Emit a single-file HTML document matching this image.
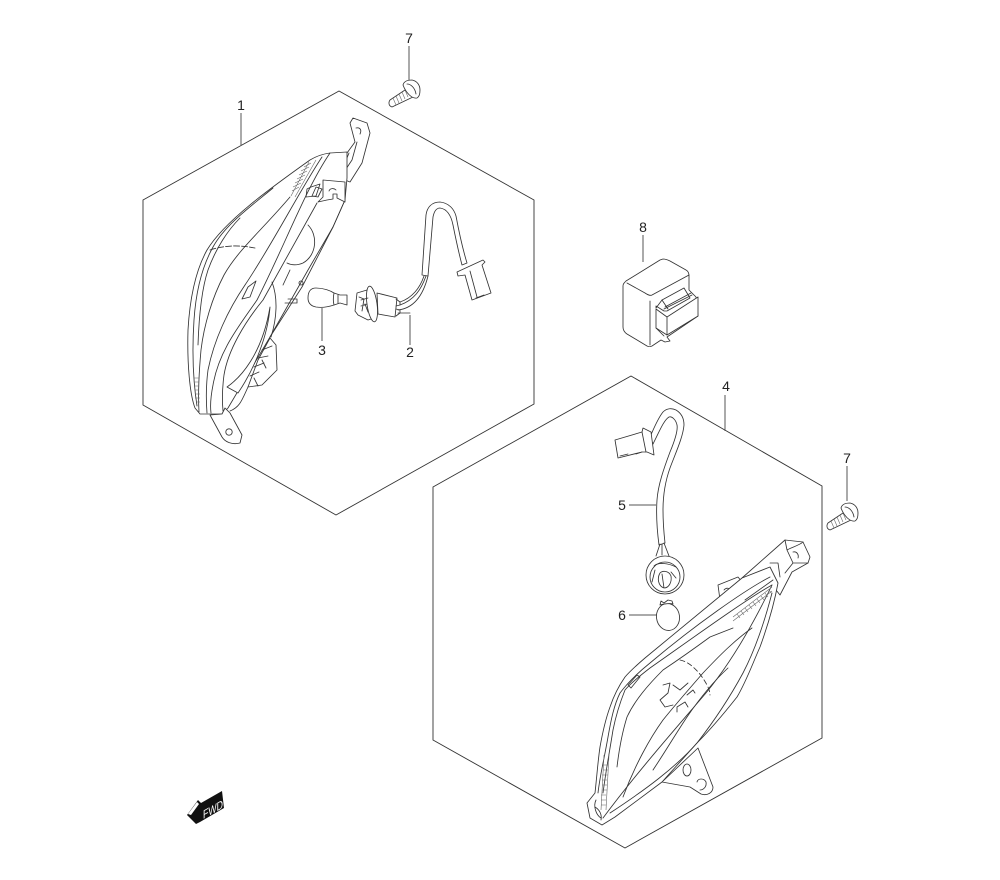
<!DOCTYPE html>
<html>
<head>
<meta charset="utf-8">
<style>
html,body{margin:0;padding:0;background:#fff;width:1000px;height:880px;overflow:hidden}
svg{display:block}
text{font-family:"Liberation Sans",sans-serif;font-size:14px;fill:#222;text-anchor:middle}
.h{fill:none;stroke:#333;stroke-width:.9}
.l{fill:none;stroke:#555;stroke-width:1}
.d{fill:none;stroke:#333;stroke-width:.85;stroke-linejoin:round;stroke-linecap:round}
.t{fill:none;stroke:#666;stroke-width:.6}
.w{fill:#fff;stroke:#333;stroke-width:.85;stroke-linejoin:round}
</style>
</head>
<body>
<svg width="1000" height="880" viewBox="0 0 1000 880" xmlns="http://www.w3.org/2000/svg">
<!-- hexagon frames -->
<path class="h" d="M339 91L534 200V404L336 515L143 405V200Z"/>
<path class="h" d="M631 376L822 486V738L625 848L433 740V487Z"/>

<!-- leaders -->
<path class="l" d="M409 46V81M241 113V146M322 308V341M410 315V345M643 235V262M725 395V431M847 466V501M629 505H656M629 615H658"/>
<text x="409" y="43">7</text>
<text x="241" y="110">1</text>
<text x="322" y="355">3</text>
<text x="410" y="357">2</text>
<text x="643" y="232">8</text>
<text x="726" y="391">4</text>
<text x="847" y="463">7</text>
<text x="622" y="510">5</text>
<text x="622" y="620">6</text>

<!-- lamp 1 -->
<g>
<!-- bracket -->
<path class="w" d="M350 123L353 118L367 123L370 133L362 163L350 182L340 178L340 160L347 153L355 142Z"/>
<path class="d" d="M356 128C360 127 362 130 360 134M357 142L352 160L344 172M349 153L342 170"/>
<!-- body silhouette -->
<path class="w" d="M347 152L330 153C322 154 315 157 310 160C275 185 225 220 207 250C197 268 190 295 188 330C187 365 190 395 195 408L200 414H222L228 408L270 337L308 270L333 227L345 200L347 178Z"/>
<!-- lens curves -->
<path class="d" d="M273 188C250 207 225 225 213 247C203 265 196 290 194 320C192 350 193 380 197 406"/>
<path class="d" d="M240 218C228 230 216 248 208 270C202 288 199 315 198 345"/>
<path class="d" d="M290 197C262 230 238 250 224 275C212 298 204 325 201 350C199 372 198 395 199 412"/>
<path class="d" d="M330 153C305 190 285 245 257 300C240 325 219 350 213 385C211 395 210 405 211 413"/>
<path class="d" d="M322 157C300 190 272 245 245 285C228 310 214 340 208 370C206 385 206 400 207 413"/>
<path class="d" d="M317 203L263 300C245 322 228 350 224 375C222 390 222 400 223 411"/>
<path class="d" d="M345 200L333 227L302 287L270 337"/>
<!-- tick strips -->
<path class="t" d="M309 162L291 196M316 160L295 197M311 163L304 167M309 167L301 171M307 171L299 175M305 175L297 179M303 179L295 183M301 183L293 187M299 187L292 191"/>
<path class="t" d="M194 378L199 378M194 382L199 382M194 386L199 386M195 390L199 390M195 394L200 394M195 398L200 398M196 402L200 402"/>
<path class="d" stroke-dasharray="6 2" d="M210 250C225 245 240 245 255 248"/>
<!-- bowl -->
<path class="d" d="M308 225C318 235 317 255 303 263C296 266 291 265 287 263M272 282C278 298 277 318 271 337"/>
<circle class="d" cx="301" cy="283" r="2"/>
<path class="d" d="M288 299H297V303H285M290 270L283 285"/>
<path class="d" d="M248 287L256 281L250 297L242 299Z"/>
<path class="d" d="M307 189L311 187L320 184L316 196L306 197Z"/>
<path class="d" d="M312 196L316 187L322 189L318 197Z"/>
<!-- clip -->
<path class="w" d="M323 180L345 182V202L337 198V194H333V199L327 200L318 202L323 197Z"/>
<path class="d" d="M329 191C330 188 334 188 336 190"/>
<!-- socket lower -->
<path class="w" d="M270 338L276 345L277 370L262 385L248 387L258 360Z"/>
<path class="d" d="M262 350L272 346M258 358L268 356M254 367L264 363M250 376L259 372M254 378L258 386M262 360L266 368"/>
<path class="w" d="M227 387C240 378 262 355 270 307C268 335 255 368 238 393Z"/>
<path class="d" d="M248 387C242 400 240 407 230 411"/>
<!-- tab -->
<path class="w" d="M210 415L222 437C225 442 232 445 240 443L242 435L230 413L225 408L222 414Z"/>
<circle class="d" cx="229" cy="432" r="3.2"/>
</g>

<!-- bulb 3 -->
<path class="w" d="M308 298C308 291 311 288 316 288C324 288 331 291 334 293L340 295L347 295V305L340 303L334 305C328 307 322 308 316 307C311 306 308 303 308 298Z"/>
<path class="d" d="M334 293C333 298 333 301 334 305M338 295V303"/>

<!-- socket 2 / harness -->
<g>
<path class="w" d="M422 275L426 215C427 207 432 202 440 202C449 203 454 209 456 216C459 232 463 250 467 263L462 265C458 250 455 235 453 225C451 215 447 209 440 208C436 208 434 212 433 217L428 276Z"/>
<path class="d" d="M424 276C420 288 412 298 400 302M426 276C421 290 414 300 400 305M428 276C424 292 416 308 398 310M398 313H410"/>
<path class="w" d="M377 293L397 298L395 317L378 314Z"/>
<path class="w" d="M357 293L367 290L372 300L374 318L368 320L358 315L355 311Z"/>
<ellipse class="w" cx="372" cy="304" rx="5" ry="18" transform="rotate(-8 372 304)"/>
<path class="d" d="M359 297L364 299L362 311M361 300L368 298M361 306L367 304M365 304L368 312M396 299L400 302V305L396 306M396 309L400 310V313L396 316"/>
<path class="w" d="M457 272L483 260L485 262L482 265L491 293L472 300L465 275L458 276Z"/>
<path class="d" d="M476 298L484 295M470 271L477 297"/>
</g>

<!-- relay 8 -->
<g>
<path class="w" d="M663 259C666 259 668 260 670 261L686 270C688 271 689 273 689 276V290L696 297L698 316L667 337L670 341L665 342L661 340L652 346C650 347 649 347 647 346L627 334C624 332 623 330 623 327V286C623 284 624 283 626 281L660 260Z"/>
<path class="d" d="M627 283L645 293C648 295 650 296 652 295L689 275M650 301V345"/>
<path class="w" d="M656 308L662 300L684 288L690 298L667 311L664 311L656 306Z"/>
<path class="d" d="M662 300L668 309M664 309L692 295M665 307L691 293"/>
<path class="w" d="M656 309L667 317L698 297V316L667 335L656 328Z"/>
<path class="d" d="M667 317V335M664 336L656 328"/>
</g>

<!-- screws 7 -->
<g>
<path class="w" d="M390 100L408 88L413 97L392 107C389 106 388 103 390 100Z"/>
<path class="t" d="M393 98L396 105M396 96L399 103M399 94L402 101M402 92L405 99M405 90L408 97"/>
<path class="w" d="M403 85C404 81 408 80 412 80C417 81 420 85 420 90C420 94 419 97 417 98C412 99 406 93 403 85Z"/>
<path class="d" d="M407 84C411 84 415 88 416 94"/>
</g>
<g transform="translate(438 423)">
<path class="w" d="M390 100L408 88L413 97L392 107C389 106 388 103 390 100Z"/>
<path class="t" d="M393 98L396 105M396 96L399 103M399 94L402 101M402 92L405 99M405 90L408 97"/>
<path class="w" d="M403 85C404 81 408 80 412 80C417 81 420 85 420 90C420 94 419 97 417 98C412 99 406 93 403 85Z"/>
<path class="d" d="M407 84C411 84 415 88 416 94"/>
</g>

<!-- harness 5 -->
<g>
<path class="w" d="M650 437C654 428 658 418 663 412C667 408 672 408 676 410C681 413 684 418 684 425C683 437 676 452 670 468C665 482 663 495 663 510C663 522 664 534 665 543L659 545C657 530 656 515 657 500C658 485 664 468 670 452C675 440 678 430 677 425C676 420 672 416 669 417C664 420 660 430 653 444Z"/>
<path class="w" d="M615 440L642 432L643 428L651 432L654 455L647 452L642 452L618 458Z"/>
<path class="d" d="M642 432L646 452M620 456L628 454M636 454L642 452"/>
<path class="d" d="M660 544L656 556M662 544L662 555M664 543L669 556"/>
<circle class="w" cx="665" cy="575" r="19"/>
<circle class="d" cx="665" cy="577" r="15"/>
<path class="d" d="M654 566C658 562 668 563 676 567M655 570L652 582M660 573C657 578 658 586 664 588C669 588 672 582 671 576C669 571 663 570 660 573ZM671 572L676 578M662 574L664 588"/>
<ellipse class="w" cx="668" cy="617" rx="11.5" ry="13.5" transform="rotate(-8 668 617)"/>
<path class="w" d="M660 605L661 601L664 603L668 600L672 601L673 604C669 603 664 604 660 605Z"/>
</g>

<!-- lamp 4 -->
<g>
<!-- bottom tab -->
<path class="w" d="M698 748L713 787C713 793 707 796 701 794L690 787L662 782Z"/>
<ellipse class="d" cx="687" cy="770" rx="4" ry="6"/>
<path class="d" d="M697 782C698 778 704 778 706 782C707 787 703 790 700 790"/>
<!-- bracket -->
<path class="w" d="M742 578L785 540L803 542L810 557L808 563L792 572L780 595L768 580Z"/>
<path class="d" d="M785 540L787 550L793 563L808 563M793 563L785 573M770 563L778 563L780 577M787 550C790 548 800 545 803 542"/>
<path class="d" d="M793 552C797 551 799 555 798 558"/>
<!-- clip -->
<path class="w" d="M718 585L738 577L742 582L725 605L720 600Z"/>
<path class="d" d="M724 590C727 587 730 588 730 592M725 605L733 597L731 594L723 602"/>
<!-- silhouette -->
<path class="w" d="M742 578L770 567L778 583C774 605 768 625 760 647C752 665 746 682 737 697C722 716 710 730 697 743L662 782L615 817L602 825L590 818L587 803L595 793C597 775 598 760 600 747C603 730 606 718 610 707C614 695 618 687 625 677C631 670 638 664 645 658Z"/>
<!-- lens lines -->
<path class="d" d="M770 577C745 590 695 625 650 663C635 675 626 685 620 693C614 705 611 720 608 737C604 760 600 775 598 793"/>
<path class="d" d="M772 585C745 600 690 640 650 668C637 678 630 684 625 690C619 705 616 715 613 730C609 755 606 770 603 793"/>
<path class="d" d="M733 628L710 637C695 648 678 660 663 670C648 685 635 700 627 717C622 733 619 750 617 767"/>
<path class="d" d="M752 628C735 640 720 655 703 673C690 688 675 705 663 720C650 738 635 765 623 797"/>
<path class="d" d="M728 668C715 680 700 698 687 717C675 735 665 752 653 770"/>
<path class="d" d="M772 593C765 620 755 650 743 673C730 697 715 720 697 743C675 768 645 790 610 813"/>
<path class="d" d="M773 580L745 600M772 585C760 610 735 660 700 700C670 735 635 775 603 818"/>
<!-- tick strips -->
<path class="t" d="M733 617L772 587M733 621L772 591M737 614L740 618M741 611L744 615M745 608L748 612M749 605L752 609M753 602L756 606M757 599L760 603M761 596L764 600M765 593L768 597M769 590L772 594"/>
<path class="t" d="M604 755L601 810M609 755L606 810M603 765H608M603 770H608M602 775H608M602 780H607M602 785H607M602 790H607M601 795H606M601 800H606M601 805H606"/>
<!-- marks -->
<path class="d" d="M628 685L637 675L640 677L631 688Z"/>
<path class="d" stroke-dasharray="5 3" d="M680 660C690 662 700 672 707 685C709 689 710 692 710 695"/>
<path class="d" d="M663 685L670 683L668 693L660 700L665 707L673 705M673 685L680 690L688 683M687 695L693 690L695 693M677 707L685 702L688 707M677 712L677 707"/>
<!-- bottom end -->
<path class="d" d="M596 800C593 806 596 815 601 818M595 807C600 810 602 815 601 820"/>
</g>

<!-- FWD arrow -->
<path d="M187 815L198 800L201 803L222 791L224 808L200 822L196 824Z" fill="#111"/>
<path d="M188 814L197 802L199 804L191 815Z" fill="#fff"/>
<text transform="translate(203 819) skewY(-29)" textLength="20" lengthAdjust="spacingAndGlyphs" style="font-size:12px;fill:#fff;text-anchor:start">FWD</text>
</svg>
</body>
</html>
